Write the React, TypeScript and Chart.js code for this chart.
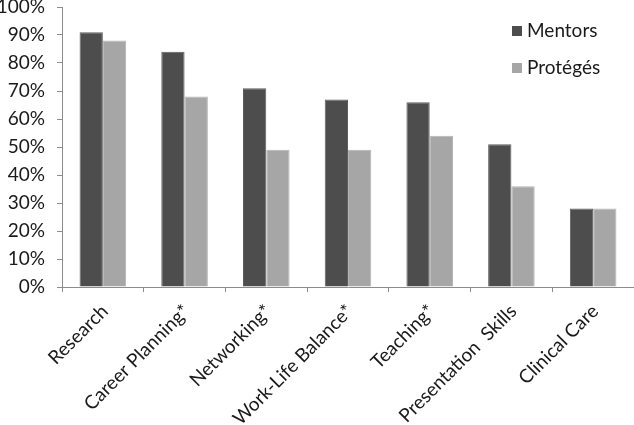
import React, { useEffect, useRef } from "react";
import { Chart, registerables } from "chart.js";

Chart.register(...registerables);

const categories = [
  "Research",
  "Career Planning*",
  "Networking*",
  "Work-Life Balance*",
  "Teaching*",
  "Presentation  Skills",
  "Clinical Care",
];
const mentors = [91, 84, 71, 67, 66, 51, 28];
const proteges = [88, 68, 49, 49, 54, 36, 28];
const seriesNames = ["Mentors", "Protégés"];
const seriesColors = ["#4d4d4d", "#a6a6a6"];

const FONT = "Lato, 'Open Sans', sans-serif";

const legendPlugin = {
  id: "insideLegend",
  afterDraw(chart: any) {
    const ctx = chart.ctx;
    ctx.save();
    ctx.font = `19px ${FONT}`;
    ctx.textBaseline = "middle";
    const rows = [31, 68];
    seriesNames.forEach((name, i) => {
      ctx.fillStyle = seriesColors[i];
      ctx.fillRect(512, rows[i] - 5, 10, 10);
      ctx.fillStyle = "#1a1a1a";
      ctx.fillText(name, 527, rows[i]);
    });
    ctx.restore();
  },
};

export default function App() {
  const ref = useRef<HTMLCanvasElement>(null);
  useEffect(() => {
    document.body.style.margin = "0";
    const chart = new Chart(ref.current!, {
      type: "bar",
      data: {
        labels: categories,
        datasets: [
          {
            label: seriesNames[0],
            data: mentors,
            backgroundColor: seriesColors[0],
            borderColor: "#5e5e5e",
            borderWidth: 1,
          },
          {
            label: seriesNames[1],
            data: proteges,
            backgroundColor: seriesColors[1],
            borderColor: "#b4b4b4",
            borderWidth: 1,
          },
        ],
      },
      options: {
        animation: false,
        responsive: false,
        maintainAspectRatio: false,
        layout: { padding: 0 },
        plugins: {
          legend: { display: false },
          tooltip: { enabled: false },
        },
        datasets: {
          bar: { categoryPercentage: 0.57, barPercentage: 1.0 },
        },
        scales: {
          x: {
            offset: true,
            afterFit(scale: any) {
              scale.height = 138;
              scale.paddingLeft = 0;
              scale.paddingRight = 0;
            },
            grid: {
              offset: true,
              drawOnChartArea: false,
              drawTicks: true,
              tickLength: 5,
              color: "#8c8c8c",
            },
            border: { color: "#8c8c8c", width: 1 },
            ticks: {
              maxRotation: 45,
              minRotation: 45,
              autoSkip: false,
              color: "#1a1a1a",
              padding: 8,
              labelOffset: 2,
              font: { family: FONT, size: 19 },
            },
          },
          y: {
            min: 0,
            max: 100,
            afterFit(scale: any) {
              scale.width = 62;
              scale.paddingTop = 7;
              scale.paddingBottom = 0;
            },
            grid: {
              drawOnChartArea: false,
              drawTicks: true,
              tickLength: 5,
              color: "#8c8c8c",
            },
            border: { color: "#8c8c8c", width: 1 },
            ticks: {
              stepSize: 10,
              color: "#1a1a1a",
              padding: 12,
              font: { family: FONT, size: 19 },
              callback: (v: any) => `${v}%`,
            },
          },
        },
      },
      plugins: [legendPlugin],
    });
    return () => chart.destroy();
  }, []);
  return (
    <div style={{ position: "fixed", left: 0, top: 0, width: 634, height: 425 }}>
      <canvas ref={ref} width={634} height={425} />
    </div>
  );
}
